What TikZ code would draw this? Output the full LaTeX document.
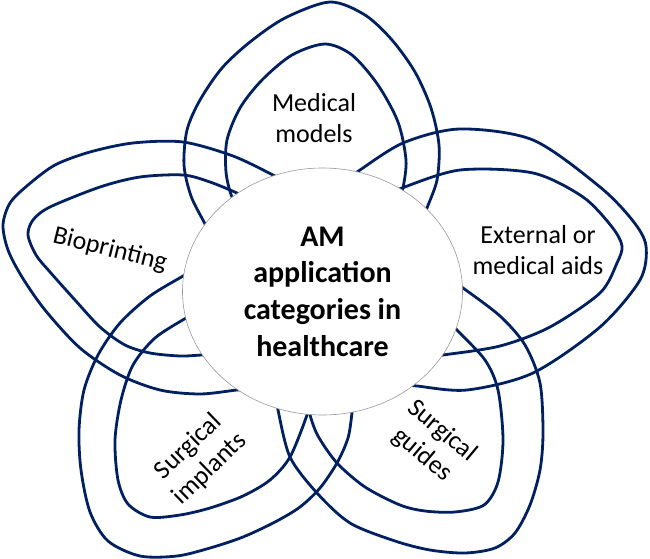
\documentclass[tikz,border=0pt]{standalone}
\usepackage{fontspec}
\setmainfont{Carlito}
\usetikzlibrary{shapes.geometric}
\definecolor{petalblue}{RGB}{0,32,96}
\begin{document}
\begin{tikzpicture}[x=1pt,y=-1pt,
  petal/.style={draw=petalblue, line width=2.8pt, line cap=round, line join=round},
  lbl/.style={font=\fontsize{26}{31}\selectfont, align=center, inner sep=0pt, text=black},
  hubstyle/.style={ellipse, draw=gray!80, line width=0.6pt, fill=white,
    minimum width=280pt, minimum height=247pt, inner sep=0pt, align=center,
    font=\bfseries\fontsize{30}{36.7}\selectfont}]
\useasboundingbox (0,0) rectangle (650,559);
% Medical models petal
\draw[petal] plot[smooth] coordinates {(211,235) (204,222) (191,196) (184,165) (187,130) (200,100) (222,68) (250,42) (285,18) (330,2) (365,15) (392,40) (415,72) (431,108) (439,145) (437,180) (427,208) (423,220)};
\draw[petal] plot[smooth] coordinates {(242,207) (232,197) (226,172) (227,140) (240,108) (262,80) (292,55) (325,44) (352,55) (378,85) (398,122) (406,160) (403,188) (399,199)};
% External petal
\draw[petal] plot[smooth] coordinates {(349,177) (357,172) (403,143) (460,129) (533,140) (600,187) (633,221) (646,246) (640,280) (600,327) (533,373) (467,390) (417,386) (407,385)};
\draw[petal] plot[smooth] coordinates {(392,194) (402,188) (460,170) (533,173) (583,197) (612,227) (622,246) (617,263) (600,293) (550,327) (500,346) (443,355) (434,356)};
% Surgical guides petal
\draw[petal] plot[smooth] coordinates {(454,282) (463,288) (500,316) (525,345) (540,383) (543,433) (540,470) (530,505) (515,533) (495,548) (465,553) (430,550) (395,541) (350,523) (317,493) (290,457) (278,410) (277,400)};
\draw[petal] plot[smooth] coordinates {(449,320) (457,330) (485,360) (498,390) (503,440) (498,482) (484,505) (455,512) (425,511) (400,505) (365,487) (337,463) (318,436) (310,415) (309,405)};
% Surgical implants petal
\draw[petal] plot[smooth] coordinates {(192,270) (183,276) (150,296) (120,323) (98,355) (84,390) (79,430) (81,470) (90,512) (108,541) (140,556) (177,556) (210,548) (243,537) (275,522) (300,507) (320,488) (337,463) (348,438) (352,413) (353,403)};
\draw[petal] plot[smooth] coordinates {(195,313) (186,318) (155,338) (133,365) (121,400) (115,440) (118,480) (128,504) (150,517) (180,515) (210,508) (243,496) (270,480) (290,457) (307,415) (308,405)};
% Bioprinting petal
\draw[petal] plot[smooth] coordinates {(282,180) (273,175) (233,156) (183,142) (133,143) (90,152) (55,165) (28,185) (10,203) (3,225) (8,250) (22,277) (45,310) (80,348) (120,375) (160,390) (200,394) (237,390) (247,390)};
\draw[petal] plot[smooth] coordinates {(247,198) (237,193) (210,182) (183,175) (140,177) (100,187) (50,207) (33,220) (28,235) (36,255) (50,272) (75,300) (100,327) (125,345) (150,353) (180,356) (202,355) (212,355)};
% centre
\node[hubstyle] (hub) at (322.5,291.5) {AM\\application\\categories in\\healthcare};
% labels
\node[lbl] (mm) at (314,118) {Medical\\models};
\node[lbl] (ext) at (538,250) {External or\\medical aids};
\node[lbl, rotate=-14] (bio) at (110,250) {Bioprinting};
\node[lbl, rotate=44] (imp) at (199,458) {Surgical\\implants};
\node[lbl, rotate=-40] (gui) at (432,443) {Surgical\\guides};
\end{tikzpicture}
\end{document}
